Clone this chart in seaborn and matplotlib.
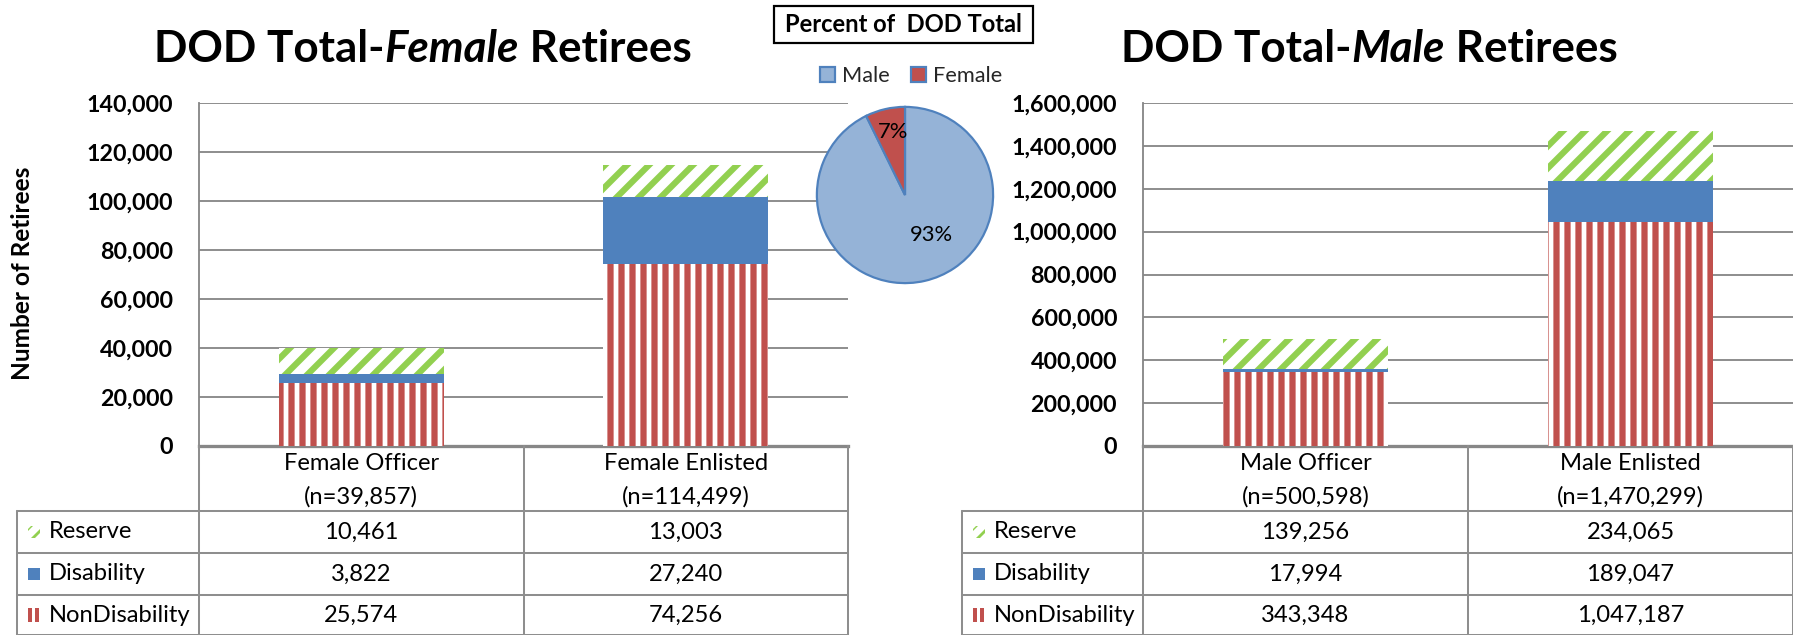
import numpy as np
import pandas as pd
import matplotlib
matplotlib.use("Agg")
import matplotlib.pyplot as plt
import seaborn as sns
from matplotlib.patches import Rectangle, Polygon
from matplotlib.lines import Line2D
from matplotlib.transforms import Affine2D

# ---------------- data ----------------
female_categories = ["Female Officer", "Female Enlisted"]
female_n = [39857, 114499]
female_nondisability = [25574, 74256]
female_disability = [3822, 27240]
female_reserve = [10461, 13003]

male_categories = ["Male Officer", "Male Enlisted"]
male_n = [500598, 1470299]
male_nondisability = [343348, 1047187]
male_disability = [17994, 189047]
male_reserve = [139256, 234065]

series_names = ["Reserve", "Disability", "NonDisability"]
pie_labels = ["Male", "Female"]
female_ticks = [0, 20000, 40000, 60000, 80000, 100000, 120000, 140000]
male_ticks = [0, 200000, 400000, 600000, 800000, 1000000, 1200000, 1400000, 1600000]

# ---------------- style ----------------
W, H, DPI = 1793, 635, 132
RED, BLUE, GREEN, LBLUE = "#C0504D", "#4F81BD", "#92D050", "#95B3D7"
GRID = "#878787"
TLINE = "#8E8E8E"

sns.set_theme(style="white")
plt.rcParams["font.family"] = ["Lato", "DejaVu Sans"]
plt.rcParams["hatch.linewidth"] = 3.4

fig = plt.figure(figsize=(W / DPI, H / DPI), dpi=DPI)
fig.patch.set_facecolor("white")
renderer = fig.canvas.get_renderer()
px = Affine2D().scale(1 / W, -1 / H).translate(0, 1) + fig.transFigure


def box(x0, y0, x1, y1):
    return [x0 / W, 1 - y1 / H, (x1 - x0) / W, (y1 - y0) / H]


def width_of(txt, size, weight="normal", style="normal"):
    t = fig.text(0, 0, txt, fontsize=size, fontweight=weight, fontstyle=style)
    w = t.get_window_extent(renderer).width
    t.remove()
    return w


def fit(txt, target, weight="normal", style="normal"):
    return 20 * target / width_of(txt, 20, weight, style)


title_pieces_f = [("DOD Total-", "normal"), ("Female", "italic"), (" Retirees", "normal")]
title_pieces_m = [("DOD Total-", "normal"), ("Male", "italic"), (" Retirees", "normal")]


def title_width(pieces, size):
    return sum(width_of(t, size, "bold", s) for t, s in pieces)


TITLE_FS = 20 * 538 / title_width(title_pieces_f, 20)
TICK_FS = fit("140,000", 86, "bold")
YLAB_FS = fit("Number of Retirees", 213, "bold")
TABLE_FS = fit("NonDisability", 142)
PIE_T_FS = fit("Percent of  DOD Total", 238, "bold")
LEG_FS = fit("Female", 69)
PCT_FS = fit("93%", 43)


def mixed_title(cx, base_y, pieces, size):
    total = title_width(pieces, size)
    x = cx - total / 2
    for txt, st in pieces:
        fig.text(x, base_y, txt, transform=px, fontsize=size, fontweight="bold",
                 fontstyle=st, ha="left", va="baseline", color="black")
        x += width_of(txt, size, "bold", st)


def draw_chart(ax, cats, nd, dis, res, ticks):
    df = pd.DataFrame({"cat": cats, "nd": nd, "dis": dis, "res": res})
    b1 = np.array(nd, dtype=float)
    b2 = b1 + np.array(dis, dtype=float)
    common = dict(data=df, x="cat", ax=ax, width=0.51, errorbar=None, linewidth=0,
                  zorder=3, saturation=1)
    sns.barplot(y="nd", color="white", facecolor="white", edgecolor=RED, hatch="||", **common)
    sns.barplot(y="dis", bottom=b1, color=BLUE, facecolor=BLUE, edgecolor=BLUE, **common)
    sns.barplot(y="res", bottom=b2, color="white", facecolor="white", edgecolor=GREEN,
                hatch="//", **common)
    ax.set_xlim(-0.5, 1.5)
    ax.set_ylim(ticks[0], ticks[-1])
    ax.set_yticks(ticks)
    ax.set_yticklabels([f"{t:,}" for t in ticks], fontsize=TICK_FS, fontweight="bold", color="black")
    ax.set_xticks([])
    ax.set_xlabel("")
    ax.set_ylabel("")
    ax.tick_params(axis="y", length=0, pad=26 * 72 / DPI)
    ax.yaxis.grid(True, color=GRID, linewidth=1.0)
    ax.set_axisbelow(True)
    for s in ["top", "right"]:
        ax.spines[s].set_visible(False)
    ax.spines["left"].set_color(GRID)
    ax.spines["left"].set_linewidth(1.0)
    ax.spines["bottom"].set_color(GRID)
    ax.spines["bottom"].set_linewidth(1.8)
    ax.set_facecolor("white")


def hline(x0, x1, y):
    fig.add_artist(Line2D([x0, x1], [y, y], transform=px, color=TLINE, lw=1.1))


def vline(x, y0, y1):
    fig.add_artist(Line2D([x, x], [y0, y1], transform=px, color=TLINE, lw=1.1))


def draw_table(left, x0, x1, cats, n, res, dis, nd):
    xm = (x0 + x1) / 2
    centers = [(x0 + xm) / 2, (xm + x1) / 2]
    rows = [446, 511, 553, 595, 635]
    for x in (x0, xm, x1):
        vline(x, 446, 635)
    vline(left, 511, 635)
    for y in rows[1:]:
        hline(left, x1, y)
    for c, cat, nn in zip(centers, cats, n):
        fig.text(c, 463, cat, transform=px, ha="center", va="center", fontsize=TABLE_FS, color="black")
        fig.text(c, 497, f"(n={nn:,})", transform=px, ha="center", va="center", fontsize=TABLE_FS, color="black")
    values = [res, dis, nd]
    ycs = [532, 574, 615]
    for name, vals, yc in zip(series_names, values, ycs):
        fig.text(left + 32, yc, name, transform=px, ha="left", va="center", fontsize=TABLE_FS, color="black")
        for c, v in zip(centers, vals):
            fig.text(c, yc, f"{v:,}", transform=px, ha="center", va="center", fontsize=TABLE_FS, color="black")
    ix = left + 11
    # legend keys
    iy = 526
    fig.add_artist(Polygon([(ix, iy + 3), (ix + 3, iy), (ix + 5, iy), (ix, iy + 5)],
                           closed=True, transform=px, facecolor=GREEN, linewidth=0))
    fig.add_artist(Polygon([(ix + 3, iy + 12), (ix + 12, iy + 3), (ix + 12, iy + 7), (ix + 7, iy + 12)],
                           closed=True, transform=px, facecolor=GREEN, linewidth=0))
    fig.add_artist(Rectangle((ix, 568), 12, 12, transform=px, facecolor=BLUE, linewidth=0))
    fig.add_artist(Rectangle((ix, 608), 4, 14, transform=px, facecolor=RED, linewidth=0))
    fig.add_artist(Rectangle((ix + 7, 608), 4, 14, transform=px, facecolor=RED, linewidth=0))


# ---------------- left chart ----------------
axL = fig.add_axes(box(199, 103, 848, 446))
draw_chart(axL, female_categories, female_nondisability, female_disability, female_reserve, female_ticks)
draw_table(17, 199, 848, female_categories, female_n, female_reserve, female_disability, female_nondisability)
mixed_title(423, 62, title_pieces_f, TITLE_FS)
fig.text(23, 273, "Number of Retirees", transform=px, rotation=90, ha="center", va="center",
         fontsize=YLAB_FS, fontweight="bold", color="black")

# ---------------- right chart ----------------
axR = fig.add_axes(box(1143, 103, 1793, 446))
draw_chart(axR, male_categories, male_nondisability, male_disability, male_reserve, male_ticks)
draw_table(962, 1143, 1793, male_categories, male_n, male_reserve, male_disability, male_nondisability)
mixed_title(1369, 62, title_pieces_m, TITLE_FS)

# ---------------- pie ----------------
pie_values = [sum(male_n), sum(female_n)]
axP = fig.add_axes(box(905 - 89, 195 - 89, 905 + 89, 195 + 89))
wedges, _, autotexts = axP.pie(
    pie_values, colors=[LBLUE, RED], startangle=90, counterclock=False,
    autopct=lambda p: f"{p:.0f}%", pctdistance=0.6,
    wedgeprops=dict(edgecolor=BLUE, linewidth=1.2),
    textprops=dict(fontsize=PCT_FS, color="black"))
autotexts[0].set_position((0.30, -0.45))
autotexts[1].set_position((-0.135, 0.71))
axP.set_xlim(-1.01, 1.01)
axP.set_ylim(-1.01, 1.01)
axP.set_aspect("equal")
axP.legend(wedges, pie_labels, loc="center", bbox_to_anchor=(911 / W, 1 - 76 / H),
           bbox_transform=fig.transFigure, ncol=2, frameon=False, fontsize=LEG_FS,
           handlelength=0.7, handleheight=0.7, handletextpad=0.3, columnspacing=1.0,
           borderaxespad=0, borderpad=0)

fig.add_artist(Rectangle((774, 6), 259, 37, transform=px, facecolor="white",
                         edgecolor="black", linewidth=1.2))
fig.text(903.5, 25, "Percent of  DOD Total", transform=px, ha="center", va="center",
         fontsize=PIE_T_FS, fontweight="bold", color="black")

fig.savefig("out.png", dpi=DPI, facecolor="white")
